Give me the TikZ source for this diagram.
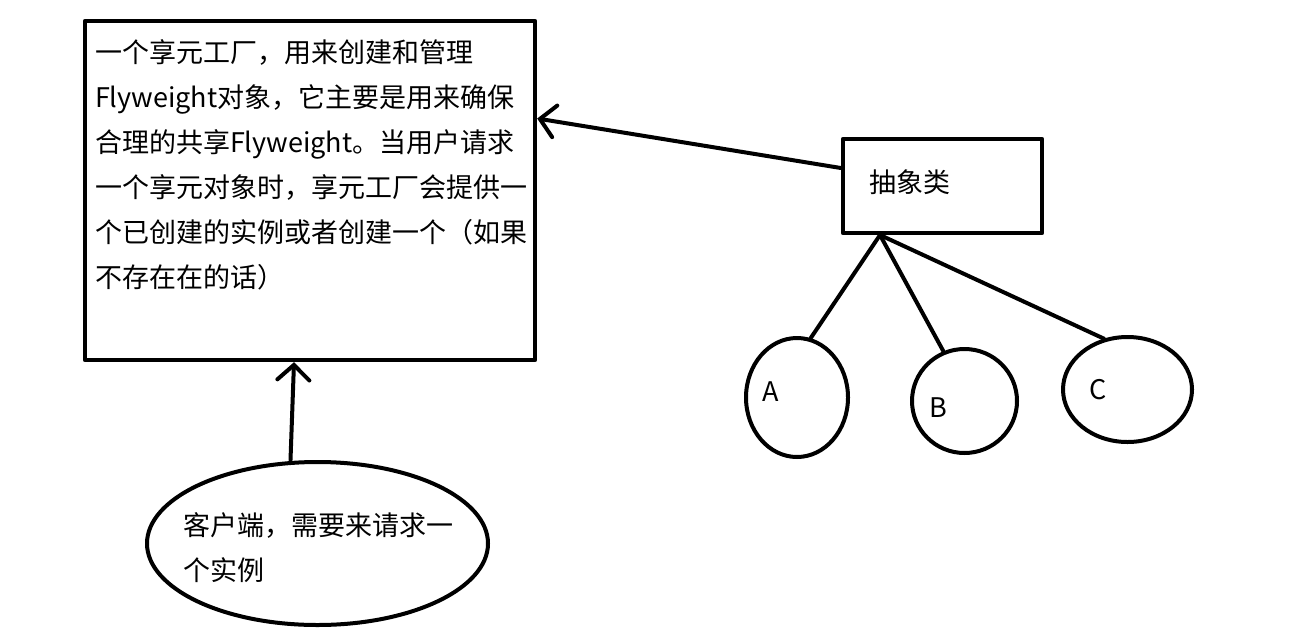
\documentclass[tikz,border=0pt]{standalone}
\usepackage{fontspec}
\newfontfamily\cjk{Noto Sans CJK SC}
\usetikzlibrary{arrows.meta,shapes.geometric,calc}
\begin{document}
\begin{tikzpicture}[x=1pt,y=-1pt, line width=4pt, line cap=round, line join=round,
  box/.style={draw, rectangle, inner sep=0pt, line width=4.4pt},
  oval/.style={draw, ellipse, inner sep=0pt},
  lbl/.style={font=\cjk\fontsize{27pt}{45pt}\selectfont, inner sep=0pt},
  arr/.style={-{Straight Barb[length=15pt,width=32pt,line cap=round]}}]
\useasboundingbox[fill=white] (0,0) rectangle (1311,643);
% factory box
\node[box, minimum width=450pt, minimum height=339pt] (factory) at (310,190.5) {};
\node[lbl, align=left, anchor=north west] (desc) at (93,38)
  {一个享元工厂，用来创建和管理\\
   Flyweight对象，它主要是用来确保\\
   合理的共享Flyweight。当用户请求\\
   一个享元对象时，享元工厂会提供一\\
   个已创建的实例或者创建一个（如果\\
   不存在在的话）};
% abstract class box
\node[box, minimum width=199pt, minimum height=94pt] (abs) at (942.5,186) {};
\node[lbl, anchor=west] (abslbl) at (867,182) {抽象类};
% concrete ellipses
\node[oval, minimum width=102pt, minimum height=119pt] (A) at (797,397.5) {};
\node[lbl] (Alb) at (771,392) {A};
\node[oval, minimum width=105pt, minimum height=104pt] (B) at (964.5,401) {};
\node[lbl] (Blb) at (938,408) {B};
\node[oval, minimum width=129pt, minimum height=105pt] (C) at (1127.5,389.5) {};
\node[lbl] (Clb) at (1098,390) {C};
% client ellipse
\node[oval, minimum width=341pt, minimum height=163pt] (client) at (317.5,543.5) {};
\node[lbl, align=left, anchor=north west] (clientlbl) at (181,511)
  {客户端，需要来请求一\\个实例};
% connectors
\coordinate (hub) at (880,235);
\draw (hub) -- (A.77);
\draw (hub) -- (B.113);
\draw (hub) -- (C.115);
\draw[arr] ([yshift=18pt]abs.west) -- ([yshift=72pt]factory.east);
\draw[arr] ([xshift=-27pt]client.north) -- ([xshift=-16pt]factory.south);
\end{tikzpicture}
\end{document}
